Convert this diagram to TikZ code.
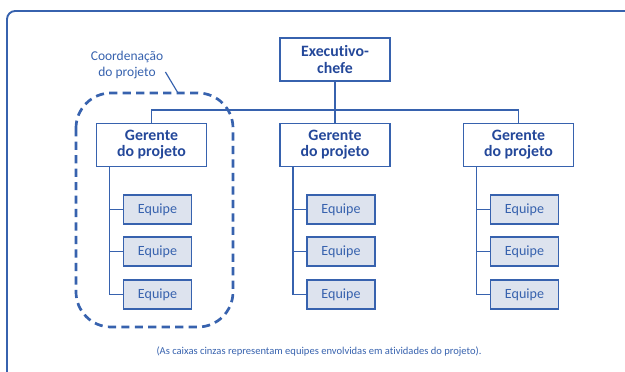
\documentclass[tikz,border=0pt]{standalone}
\usepackage{fontspec}
\setmainfont{Carlito}[Ligatures={NoCommon}]
\usetikzlibrary{positioning}
\usetikzlibrary{calc}
\definecolor{chartblue}{HTML}{3762AE}
\definecolor{chartink}{HTML}{24489A}
\definecolor{teamgray}{HTML}{DDE3EE}
\tikzset{
    chief/.style={draw=chartblue, line width=1.6pt, fill=white, text=chartink,
        font=\fontsize{13.5}{13.8}\selectfont\bfseries, align=center,
        minimum width=3.3cm, minimum height=1.29cm, inner sep=0pt},
    manager/.style={chief},
    team/.style={draw=chartblue, line width=1.6pt, fill=teamgray, text=chartblue,
        font=\fontsize{12}{13}\selectfont,
        minimum width=2.04cm, minimum height=0.87cm, inner sep=0pt},
    link/.style={draw=chartblue, line width=1.3pt},
    grouping/.style={draw=chartblue, line width=2.3pt,
        dash pattern=on 7pt off 4.5pt, rounded corners=30pt},
}

\begin{document}
\begin{tikzpicture}[x=0.03cm, y=-0.03cm]
\useasboundingbox (0,0) rectangle (625,372);
\draw [chartblue, line width=1.6pt, rounded corners=7pt] (625,11) -- (7,11) -- (7,372);

\node [chief] (exec) at (335,59.5) {Executivo-\\chefe};

\node [manager] (g1) at (151.5,145) {Gerente\\do projeto};
\node [manager] (g2) at (335,145) {Gerente\\do projeto};
\node [manager] (g3) at (518.5,145) {Gerente\\do projeto};

\coordinate (bus) at (335,110);
\draw [link] (exec.south) -- (g2.north);
\draw [link] (g1.north) |- (bus) -| (g3.north);

\node [team] (e11) at (157.5,209.5) {Equipe};
\node [team] (e12) at (157.5,251.5) {Equipe};
\node [team] (e13) at (157.5,294.5) {Equipe};

\node [team] (e21) at (341,209.5) {Equipe};
\node [team] (e22) at (341,251.5) {Equipe};
\node [team] (e23) at (341,294.5) {Equipe};

\node [team] (e31) at (524.5,209.5) {Equipe};
\node [team] (e32) at (524.5,251.5) {Equipe};
\node [team] (e33) at (524.5,294.5) {Equipe};

\coordinate (t1) at ($(g1.south west)+(14,0)$);
\draw [link] (t1) |- (e13.west);
\draw [link] (t1 |- e11.west) -- (e11.west);
\draw [link] (t1 |- e12.west) -- (e12.west);

\coordinate (t2) at ($(g2.south west)+(14,0)$);
\draw [link] (t2) |- (e23.west);
\draw [link] (t2 |- e21.west) -- (e21.west);
\draw [link] (t2 |- e22.west) -- (e22.west);

\coordinate (t3) at ($(g3.south west)+(14,0)$);
\draw [link] (t3) |- (e33.west);
\draw [link] (t3 |- e31.west) -- (e31.west);
\draw [link] (t3 |- e32.west) -- (e32.west);

% coordination of the first project
\node [text=chartblue, font=\fontsize{11.5}{13.6}\selectfont, align=center, inner sep=0pt]
    (lbl) at (127,65) {Coordenação\\do projeto};
\coordinate (tip) at (178,93);
\draw [link, line width=1pt] ($(lbl.east)+(2,7)$) -- (tip);
\draw [grouping] (76,93) rectangle (233,327);

\node [text=chartblue, font=\fontsize{9}{10}\selectfont] (note) at (319,352)
    {(As caixas cinzas representam equipes envolvidas em atividades do projeto).};
\end{tikzpicture}
\end{document}
